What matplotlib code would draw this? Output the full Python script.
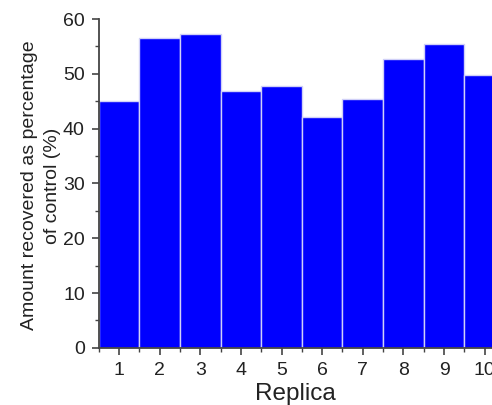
import matplotlib
matplotlib.use("Agg")
import matplotlib.pyplot as plt
from matplotlib.ticker import MultipleLocator

replicas = [1, 2, 3, 4, 5, 6, 7, 8, 9, 10]
values = [45.0, 56.6, 57.2, 46.8, 47.7, 42.1, 45.5, 52.7, 55.5, 49.7]

plt.rcParams['font.family'] = ['Liberation Sans', 'DejaVu Sans']

fig = plt.figure(figsize=(4.92, 4.05), dpi=100)
ax = fig.add_axes([0.2006, 0.141, 0.7994, 0.812])

ax.bar(replicas, values, width=1.0, color='#0000ff', edgecolor='#d0d0f8', linewidth=1.0)

ax.set_xlim(0.5, 10.18)
ax.set_ylim(0, 60)
ax.xaxis.set_major_locator(MultipleLocator(1))
ax.xaxis.set_minor_locator(MultipleLocator(0.5))
ax.yaxis.set_major_locator(MultipleLocator(10))
ax.yaxis.set_minor_locator(MultipleLocator(5))

for s in ['top', 'right']:
    ax.spines[s].set_visible(False)
for s in ['left', 'bottom']:
    ax.spines[s].set_color('#444444')
    ax.spines[s].set_linewidth(1.3)

ax.tick_params(axis='both', which='major', direction='out', length=5, width=1.2,
               color='#444444', labelsize=14, labelcolor='#222222', pad=5)
ax.tick_params(axis='both', which='minor', direction='out', length=3, width=1.0,
               color='#444444')

ax.set_xlabel('Replica', fontsize=17.5, color='#222222', labelpad=3)
ax.set_ylabel('Amount recovered as percentage\nof control (%)', fontsize=14,
              color='#222222', linespacing=1.45)
ax.yaxis.set_label_coords(-0.097, 0.494)

fig.savefig('out.png', dpi=100)
